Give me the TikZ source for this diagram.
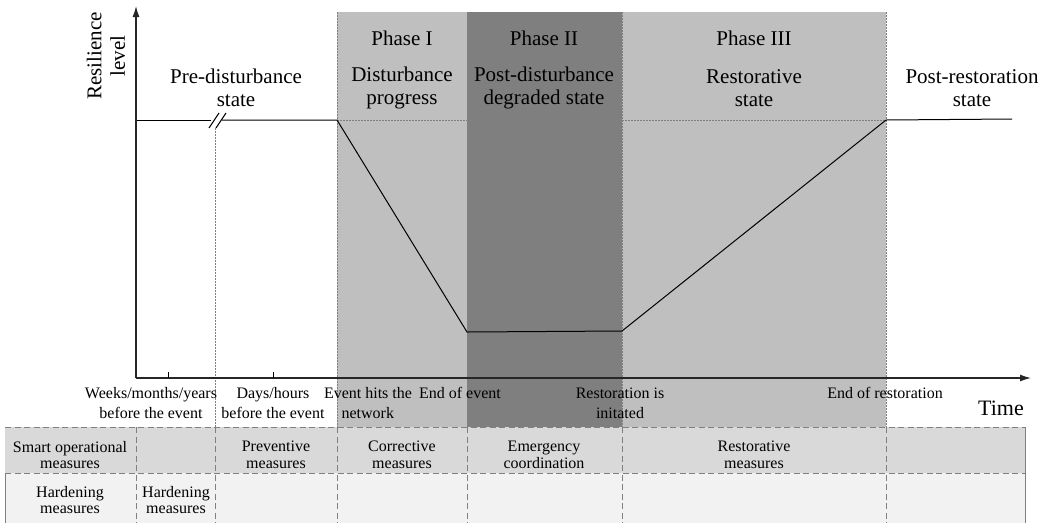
\documentclass[tikz,border=0pt]{standalone}
\usepackage{fontspec}
\setmainfont{Liberation Serif}
\usetikzlibrary{arrows.meta}
\definecolor{lightph}{HTML}{BFBFBF}
\definecolor{darkph}{HTML}{7F7F7F}
\definecolor{rowa}{HTML}{D9D9D9}
\definecolor{rowb}{HTML}{F2F2F2}
\definecolor{rule}{HTML}{808080}
\tikzset{
  axis/.style={draw=black!85, line width=1.3pt, -{Latex[length=11pt,width=7pt]}},
  curve/.style={draw=black, line width=1pt},
  dotline/.style={draw=rule, line width=0.8pt, dash pattern=on 1.5pt off 1.5pt},
  dashline/.style={draw=rule, line width=0.9pt, dash pattern=on 6pt off 3.5pt},
  edge/.style={draw=rule, line width=0.9pt},
  lab/.style={font=\fontsize{21}{23.5}\selectfont, align=center},
  ticklab/.style={font=\fontsize{16}{20}\selectfont, align=center},
  cell/.style={font=\fontsize{16}{16.5}\selectfont, align=center},
}

\begin{document}
\begin{tikzpicture}[x=1pt,y=-1pt]
  \useasboundingbox (0,0) rectangle (1048,523);

  % time instants
  \coordinate (O) at (136,378);
  \coordinate (brk) at (215,120);
  \coordinate (hit) at (337,120);
  \coordinate (eoe) at (467,332);
  \coordinate (rst) at (622,331);
  \coordinate (eor) at (886,120);
  \coordinate (fin) at (1012,119);

  % phase shading
  \fill[lightph] (337,12) rectangle (467,427);
  \fill[darkph] (467,12) rectangle (622,427);
  \fill[lightph] (622,12) rectangle (886,427);

  % table rows
  \fill[rowa] (5,427) rectangle (1025,473);
  \fill[rowb] (5,473) rectangle (1025,523);
  \draw[dashline] (5,427) -- (1025,427);
  \draw[dashline] (5,473) -- (1025,473);
  \draw[edge] (5,473) -- (5,523);
  \draw[edge] (1025,427) -- (1025,523);
  \draw[dashline] (136,427) -- (136,523);
  \draw[dashline] (215,427) -- (215,523);
  \draw[dashline] (337,427) -- (337,523);
  \draw[dashline] (467,427) -- (467,523);
  \draw[dashline] (622,427) -- (622,523);
  \draw[dashline] (886,427) -- (886,523);

  % phase borders
  \draw[dotline] (215,128) -- (215,427);
  \draw[dotline] (337,12) -- (337,427);
  \draw[dotline] (467,12) -- (467,427);
  \draw[dotline] (622,12) -- (622,427);
  \draw[dotline] (886,12) -- (886,427);
  \draw[dotline] (hit) -- (eor);

  % resilience curve
  \draw[curve] (136,120) -- (211,120);
  \draw[curve] (222,120) -- (hit) -- (eoe) -- (rst) -- (eor) -- (fin);
  \draw[curve] (209,128) -- (219,113);
  \draw[curve] (216,128) -- (226,113);

  % axes
  \draw[axis] (O) -- (136,6);
  \draw[axis] (O) -- (1031,378);
  \draw[curve] (168,378) -- (168,372);
  \draw[curve] (273,378) -- (273,372);

  % labels
  \node[lab,rotate=90] at (106,56) {Resilience\\level};
  \node[lab] at (236,88) {Pre-disturbance\\state};
  \node[lab] at (402,38) {Phase I};
  \node[lab] at (544,38) {Phase II};
  \node[lab] at (754,38) {Phase III};
  \node[lab] at (402,88) {Disturbance\\progress};
  \node[lab] at (544,88) {Post-disturbance\\degraded state};
  \node[lab] at (754,88) {Restorative\\state};
  \node[lab] at (972,88) {Post-restoration\\state};
  \node[lab,font=\fontsize{22}{24}\selectfont] at (1001,408) {Time};

  \node[ticklab] at (151,403) {Weeks/months/years\\before the event};
  \node[ticklab] at (273,403) {Days/hours\\before the event};
  \node[ticklab,align=left] at (368,403) {Event hits the\\\hspace*{1.1em}network};
  \node[ticklab] at (460,393) {End of event};
  \node[ticklab] at (620,403) {Restoration is\\initated};
  \node[ticklab] at (885,393) {End of restoration};

  \node[cell] at (70,455) {Smart operational\\measures};
  \node[cell] at (276,455) {Preventive\\measures};
  \node[cell] at (402,455) {Corrective\\measures};
  \node[cell] at (544,455) {Emergency\\coordination};
  \node[cell] at (754,455) {Restorative\\measures};
  \node[cell] at (70,500) {Hardening\\measures};
  \node[cell] at (176,500) {Hardening\\measures};
\end{tikzpicture}
\end{document}
